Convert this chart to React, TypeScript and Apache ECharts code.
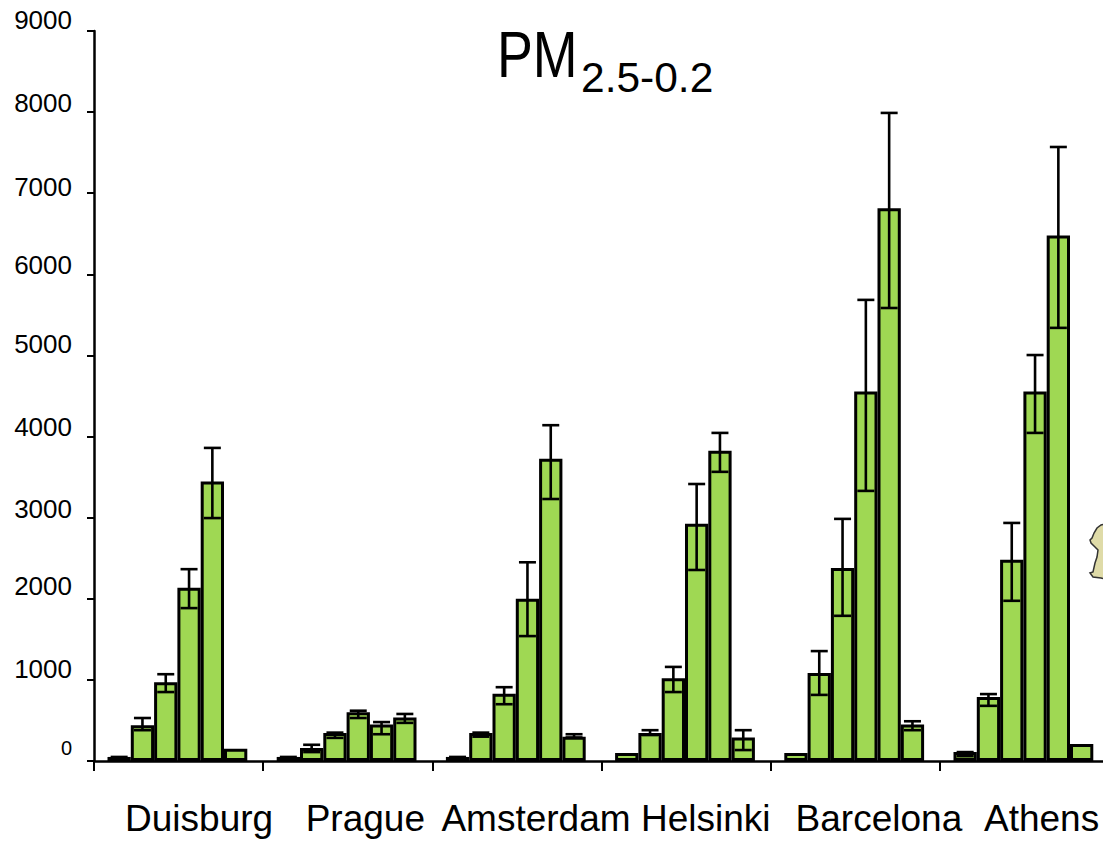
import React, { useEffect, useRef } from "react";
import * as echarts from "echarts";

const cities = ["Duisburg", "Prague", "Amsterdam", "Helsinki", "Barcelona", "Athens"];

const duisburgValues = [50, 440, 970, 2135, 3445, 150];
const pragueValues = [50, 160, 345, 600, 450, 535];
const amsterdamValues = [50, 345, 830, 2000, 3725, 300];
const helsinkiValues = [100, 345, 1020, 2925, 3825, 290];
const barcelonaValues = [100, 1085, 2380, 4555, 6815, 450];
const athensValues = [110, 790, 2480, 4555, 6480, 210];
const cityValues = [duisburgValues, pragueValues, amsterdamValues, helsinkiValues, barcelonaValues, athensValues];

const duisburgUpper = [50, 530, 1070, 2365, 3860, null];
const pragueUpper = [50, 200, 350, 620, 480, 580];
const amsterdamUpper = [50, 350, 910, 2450, 4140, 330];
const helsinkiUpper = [null, 380, 1160, 3415, 4045, 380];
const barcelonaUpper = [null, 1355, 2985, 5685, 7990, 490];
const athensUpper = [110, 825, 2935, 5005, 7570, null];
const cityUpper = [duisburgUpper, pragueUpper, amsterdamUpper, helsinkiUpper, barcelonaUpper, athensUpper];

const duisburgLower = [25, 380, 850, 1885, 2995, null];
const pragueLower = [25, 110, 285, 530, 330, 470];
const amsterdamLower = [25, 300, 700, 1540, 3230, 290];
const helsinkiLower = [null, 320, 850, 2355, 3565, 135];
const barcelonaLower = [null, 815, 1790, 3330, 5585, 380];
const athensLower = [60, 680, 1975, 4045, 5340, null];
const cityLower = [duisburgLower, pragueLower, amsterdamLower, helsinkiLower, barcelonaLower, athensLower];

const BAR_W = 23.3;
const SPACER_W = 2.4;
const BAR_COUNT = 6;
const GREEN = "#9fd853";

const barSeries: any[] = Array.from({ length: BAR_COUNT }, (_, b) => ({
  type: "bar",
  name: "size " + (b + 1),
  data: cityValues.map((vals) => vals[b]),
  barWidth: BAR_W,
  barGap: 0,
  itemStyle: { color: GREEN, borderColor: "#000", borderWidth: 3 },
}));
// An empty slot after the six bars, which moves each group slightly to the left of its band's centre.
barSeries.push({
  type: "bar",
  name: "spacer",
  data: cities.map(() => null),
  barWidth: SPACER_W,
  barGap: 0,
});

const errorData: (number | null)[][] = [];
cities.forEach((_, c) => {
  for (let b = 0; b < BAR_COUNT; b++) {
    if (cityUpper[c][b] !== null) errorData.push([c, b, cityLower[c][b], cityUpper[c][b]]);
  }
});

const errorSeries = {
  type: "custom",
  name: "error",
  clip: false,
  z: 5,
  data: errorData,
  encode: { x: 0, y: [2, 3] },
  renderItem: (_: any, api: any) => {
    const c = api.value(0);
    const b = api.value(1);
    const cx = api.coord([c, 0])[0] + (b - (BAR_COUNT - 1) / 2) * BAR_W - SPACER_W / 2;
    const lo = api.coord([c, api.value(2)])[1];
    const hi = api.coord([c, api.value(3)])[1];
    const style = { stroke: "#000", lineWidth: 2.6, fill: "none" };
    const capW = 8.5;
    const line = (x1: number, y1: number, x2: number, y2: number) => ({
      type: "line",
      shape: { x1, y1, x2, y2 },
      style,
    });
    return {
      type: "group",
      children: [
        line(cx, hi, cx, lo),
        line(cx - capW, hi, cx + capW, hi),
        line(cx - capW, lo, cx + capW, lo),
      ],
    };
  },
};

const cityOffsets = [41, 35, 38, 39, 47, 34];
const yLabelLifts: Record<number, number> = {
  9000: 23, 8000: 19, 7000: 13, 6000: 19, 5000: 22, 4000: 20, 3000: 18, 2000: 25, 1000: 21,
};

const blobPoints = [
  [1106, 524], [1101, 525], [1097, 528], [1094, 533], [1092, 538], [1090, 540], [1091, 543],
  [1095, 547], [1098, 550], [1097, 557], [1095, 563], [1093, 572], [1090, 573], [1093, 577],
  [1101, 578], [1106, 579],
];

export default function App() {
  const ref = useRef<HTMLDivElement>(null);
  useEffect(() => {
    document.body.style.margin = "0";
    const chart = echarts.init(ref.current!, undefined, { renderer: "svg" });
    const rich: any = {};
    cities.forEach((_, i) => {
      rich["c" + i] = {
        fontSize: 37,
        fontFamily: "Liberation Sans",
        color: "#000",
        padding: [0, 0, 0, cityOffsets[i]],
      };
    });
    const yRich: any = {
      z: { fontSize: 20, fontFamily: "Liberation Sans", color: "#000", padding: [0, 0, 26, 0] },
    };
    Object.keys(yLabelLifts).forEach((k) => {
      yRich["n" + k] = {
        fontSize: 26,
        fontFamily: "Liberation Sans",
        color: "#000",
        padding: [0, 0, yLabelLifts[+k], 0],
      };
    });
    chart.setOption({
      animation: false,
      backgroundColor: "#fff",
      graphic: [
        {
          type: "text",
          x: 497,
          y: 23,
          scaleX: 0.84,
          style: {
            text: "PM",
            fontSize: 64,
            fontFamily: "Liberation Sans",
            fill: "#000",
            verticalAlign: "top",
          },
        },
        {
          type: "text",
          x: 581,
          y: 56,
          style: {
            text: "2.5-0.2",
            fontSize: 42.5,
            fontFamily: "Liberation Sans",
            fill: "#000",
            verticalAlign: "top",
          },
        },
        {
          type: "polygon",
          shape: { points: blobPoints },
          style: { fill: "#dfdba8", stroke: "#333", lineWidth: 1.5 },
        },
        {
          type: "line",
          shape: { x1: 94, y1: 761, x2: 94, y2: 771 },
          style: { stroke: "#000", lineWidth: 2 },
        },
      ],
      grid: { left: 94, top: 31, width: 1015.2, height: 730, outerBoundsMode: "none" },
      xAxis: {
        type: "category",
        data: cities,
        axisLine: { lineStyle: { color: "#000", width: 2.5 } },
        axisTick: { show: true, alignWithLabel: false, length: 10, lineStyle: { color: "#000", width: 2 } },
        axisLabel: {
          margin: 39,
          interval: 0,
          hideOverlap: false,
          formatter: (v: string) => `{c${cities.indexOf(v)}|${v}}`,
          rich,
        },
      },
      yAxis: {
        type: "value",
        min: 0,
        max: 9000,
        interval: 1000,
        splitLine: { show: false },
        axisLine: { show: true, lineStyle: { color: "#000", width: 2.5 } },
        axisTick: { show: true, length: 7, lineStyle: { color: "#000", width: 2 } },
        axisLabel: {
          margin: 22,
          formatter: (v: number) => (v === 0 ? `{z|${v}}` : `{n${v}|${v}}`),
          rich: yRich,
        },
      },
      series: [...barSeries, errorSeries],
    });
    return () => chart.dispose();
  }, []);
  return (
    <div
      ref={ref}
      style={{ position: "fixed", left: 0, top: 0, width: 1103, height: 843 }}
    />
  );
}
